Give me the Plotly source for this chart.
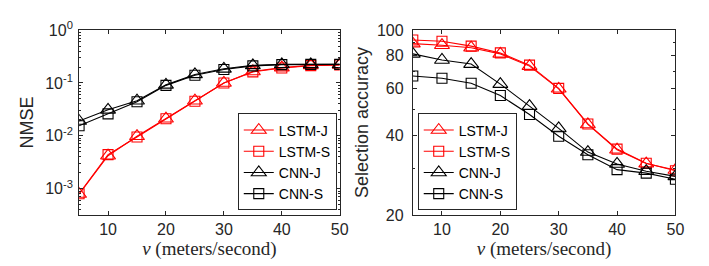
import plotly.graph_objects as go
import numpy as np

v = [5, 10, 15, 20, 25, 30, 35, 40, 45, 50]

# NMSE (left)
nmse_lstm_j = [7.9e-4, 4.2e-3, 9.8e-3, 0.021, 0.046, 0.100, 0.165, 0.195, 0.215, 0.22]
nmse_lstm_s = [8.0e-4, 4.4e-3, 9.5e-3, 0.021, 0.045, 0.100, 0.162, 0.192, 0.213, 0.22]
nmse_cnn_j = [0.019, 0.031, 0.046, 0.092, 0.145, 0.185, 0.215, 0.225, 0.225, 0.225]
nmse_cnn_s = [0.0155, 0.026, 0.044, 0.090, 0.140, 0.180, 0.210, 0.222, 0.225, 0.225]

# Selection accuracy (right)
acc_lstm_j = [88.9, 87.7, 85.8, 81.3, 73.1, 60.0, 44.0, 35.3, 31.3, 29.6]
acc_lstm_s = [91.8, 90.8, 87.0, 82.0, 73.7, 60.2, 44.2, 35.5, 31.4, 29.4]
acc_cnn_j = [81.3, 77.1, 74.4, 62.5, 51.6, 42.5, 34.6, 31.2, 29.3, 28.0]
acc_cnn_s = [67.1, 65.8, 63.0, 56.6, 48.0, 39.7, 33.8, 29.7, 28.8, 27.3]

names = ["LSTM-J", "LSTM-S", "CNN-J", "CNN-S"]
colors = ["#ff0000", "#ff0000", "#000000", "#000000"]
symbols = ["triangle-up-open", "square-open", "triangle-up-open", "square-open"]
sizes = [13, 10, 13, 10]

x_ticks = [10, 20, 30, 40, 50]
nmse_ticks = [1e-3, 1e-2, 1e-1, 1]
nmse_ticktext = ["10<sup>-3</sup>", "10<sup>-2</sup>", "10<sup>-1</sup>", "10<sup>0</sup>"]
acc_ticks = [20, 40, 60, 80, 100]

AX = "#262626"
FONT = "Liberation Sans"

fig = go.Figure()

left_series = [nmse_lstm_j, nmse_lstm_s, nmse_cnn_j, nmse_cnn_s]
right_series = [acc_lstm_j, acc_lstm_s, acc_cnn_j, acc_cnn_s]

for i in range(4):
    fig.add_trace(go.Scatter(
        x=v, y=left_series[i], name=names[i], mode="lines+markers",
        line=dict(color=colors[i], width=1.1),
        marker=dict(symbol=symbols[i], size=sizes[i], color=colors[i], line=dict(width=1.1)),
        xaxis="x", yaxis="y", legend="legend"))
for i in range(4):
    fig.add_trace(go.Scatter(
        x=v, y=right_series[i], name=names[i], mode="lines+markers",
        line=dict(color=colors[i], width=1.1),
        marker=dict(symbol=symbols[i], size=sizes[i], color=colors[i], line=dict(width=1.1)),
        xaxis="x2", yaxis="y2", legend="legend2"))

minor_left = []
for e in range(-4, 0):
    for m in range(2, 10):
        val = m * 10.0 ** e
        if val > 10 ** -3.5:
            minor_left.append(val)
minor_right = [30, 50, 70, 90]

W, H = 709, 266
def fx(p):
    return p / W
def fy(p):
    return 1 - p / H

xcommon = dict(range=[5, 50], tickvals=x_ticks, ticks="inside", ticklen=4, tickcolor=AX,
               showline=True, linecolor=AX, linewidth=1, mirror="ticks", showgrid=False,
               zeroline=False, tickfont=dict(family=FONT, size=16, color=AX),
               title=dict(text="<i>v</i> (meters/second)",
                          font=dict(family="Liberation Serif", size=19, color=AX), standoff=2))

fig.update_layout(
    width=W, height=H, margin=dict(l=0, r=0, t=0, b=0),
    plot_bgcolor="white", paper_bgcolor="white", showlegend=True,
    xaxis=dict(domain=[fx(72), fx(336)], anchor="y", **xcommon),
    xaxis2=dict(domain=[fx(410), fx(676)], anchor="y2", **xcommon),
    yaxis=dict(type="log", range=[-3.5, 0], domain=[fy(212), fy(12)], anchor="x",
               tickvals=nmse_ticks, ticktext=nmse_ticktext, ticks="inside", ticklen=4,
               tickcolor=AX, showline=True, linecolor=AX, linewidth=1, mirror="ticks",
               showgrid=False, zeroline=False, ticklabelstandoff=2,
               minor=dict(tickvals=minor_left, ticks="inside", ticklen=2, tickcolor=AX, showgrid=False),
               tickfont=dict(family=FONT, size=16, color=AX),
               title=dict(text="NMSE", font=dict(family=FONT, size=18, color=AX), standoff=6)),
    yaxis2=dict(type="log", range=[np.log10(20), 2], domain=[fy(212), fy(12)], anchor="x2",
                tickvals=acc_ticks, ticks="inside", ticklen=4,
                tickcolor=AX, showline=True, linecolor=AX, linewidth=1, mirror="ticks",
                showgrid=False, zeroline=False, ticklabelstandoff=5,
                minor=dict(tickvals=minor_right, ticks="inside", ticklen=2, tickcolor=AX, showgrid=False),
                tickfont=dict(family=FONT, size=16, color=AX),
                title=dict(text="Selection accuracy", font=dict(family=FONT, size=18, color=AX), standoff=3)),
    legend=dict(x=fx(333), y=fy(207), xanchor="right", yanchor="bottom",
                bordercolor=AX, borderwidth=1, bgcolor="white",
                font=dict(family=FONT, size=14, color="#000000"),
                tracegroupgap=0, itemwidth=30),
    legend2=dict(x=fx(415), y=fy(207), xanchor="left", yanchor="bottom",
                 bordercolor=AX, borderwidth=1, bgcolor="white",
                 font=dict(family=FONT, size=14, color="#000000"),
                 tracegroupgap=0, itemwidth=30),
)

fig.write_html("out.html")
